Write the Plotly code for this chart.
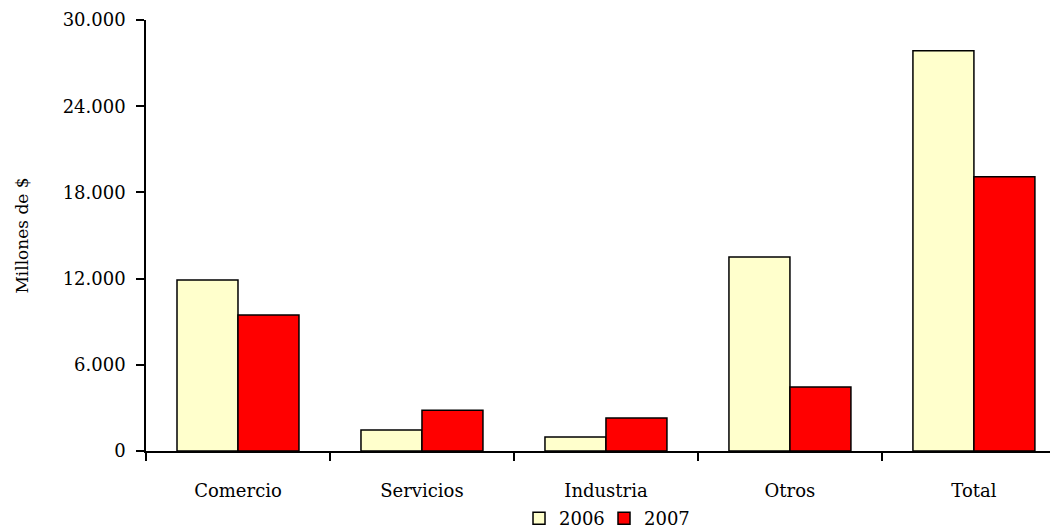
import plotly.graph_objects as go

categories = ["Comercio", "Servicios", "Industria", "Otros", "Total"]
values_2006 = [11900, 1460, 970, 13500, 27860]
values_2007 = [9460, 2830, 2300, 4450, 19090]
y_ticks = [0, 6000, 12000, 18000, 24000, 30000]

FONT = "DejaVu Serif"

fig = go.Figure()
fig.add_trace(go.Bar(x=categories, y=values_2006, name="2006",
                     marker=dict(color="#FFFFCC", line=dict(color="black", width=1.5))))
fig.add_trace(go.Bar(x=categories, y=values_2007, name="2007",
                     marker=dict(color="#FF0000", line=dict(color="black", width=1.5))))

fig.update_layout(
    width=1050, height=529,
    margin=dict(l=138, r=0, t=12, b=86),
    paper_bgcolor="white", plot_bgcolor="white",
    barmode="group", bargap=0.337, bargroupgap=0,
    separators=",.",
    font=dict(family=FONT, size=18, color="black"),
    showlegend=True,
    legend=dict(orientation="h", x=0.409, xanchor="left", xref="paper",
                y=0.0, yanchor="bottom", yref="container",
                font=dict(family=FONT, size=18), itemwidth=30, tracegroupgap=0,
                entrywidth=40, entrywidthmode="pixels",
                bgcolor="rgba(0,0,0,0)"),
    xaxis=dict(range=[-0.5, 4.457], showline=True, linecolor="black", linewidth=1.5,
               ticks="outside", tickson="boundaries", ticklen=8, tickwidth=1.5,
               tickcolor="black", showgrid=False, zeroline=False, automargin=False,
               ticklabelstandoff=23,
               tickfont=dict(family=FONT, size=18)),
    yaxis=dict(range=[0, 30000], tickvals=y_ticks, tickformat=",d",
               showline=True, linecolor="black", linewidth=1.5,
               ticks="outside", ticklen=8, tickwidth=1.5, tickcolor="black",
               showgrid=False, zeroline=False, automargin=False,
               ticklabelstandoff=7,
               tickfont=dict(family=FONT, size=18),
               title=dict(text="Millones de $", font=dict(family=FONT, size=17), standoff=30)),
)

fig.write_html("out.html")
